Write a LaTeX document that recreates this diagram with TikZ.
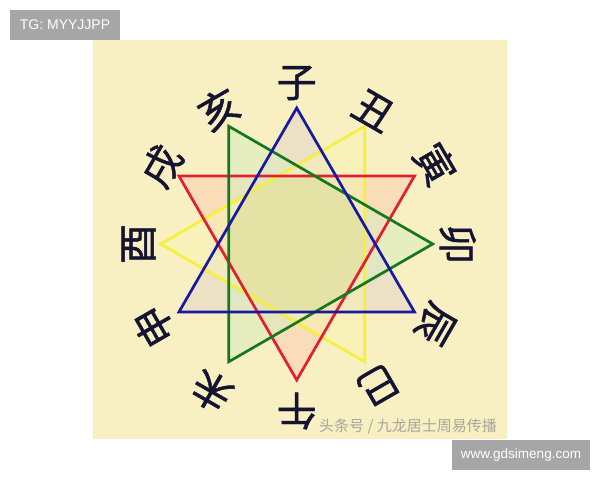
\documentclass[tikz,border=0pt]{standalone}
\usepackage{fontspec}
\setmainfont{Liberation Sans}
\newfontfamily\cjk{Noto Sans CJK SC}
\newfontfamily\cjklab[FakeBold=1.2]{Noto Sans CJK SC}
\usetikzlibrary{calc}
\definecolor{bgc}{RGB}{248,240,194}
\definecolor{bluefill}{RGB}{228,212,200}
\definecolor{redfill}{RGB}{250,204,176}
\definecolor{greenfill}{RGB}{214,238,192}
\definecolor{yellowfill}{RGB}{248,244,180}
\definecolor{centerc}{RGB}{228,226,164}
\definecolor{bline}{RGB}{24,24,160}
\definecolor{rline}{RGB}{226,30,50}
\definecolor{gline}{RGB}{22,120,30}
\definecolor{yline}{RGB}{244,240,60}
\definecolor{labc}{RGB}{20,20,50}
\definecolor{boxgray}{RGB}{166,166,166}
\definecolor{wmgray}{RGB}{168,166,158}
\tikzset{
  tri/.style={line width=2.7pt, line join=miter},
  lab/.style={text=labc, inner sep=0pt, font=\cjklab\fontsize{40}{40}\selectfont},
  tag/.style={fill=boxgray, text=white, inner sep=0pt}
}
\begin{document}
\begin{tikzpicture}[x=1pt,y=1pt]
\useasboundingbox (0,0) rectangle (600,-480);
\fill[white] (0,0) rectangle (600,-480);
\fill[bgc] (93,-40) rectangle (507,-439);
\coordinate (O) at (296.7,-244);
\foreach \i in {0,...,11} \coordinate (p\i) at ($(O)+({90-30*\i}:136)$);
% fills
\fill[bluefill, fill opacity=.5] (p0)--(p4)--(p8)--cycle;
\fill[redfill, fill opacity=.5] (p2)--(p6)--(p10)--cycle;
\fill[greenfill, fill opacity=.5] (p11)--(p3)--(p7)--cycle;
\fill[yellowfill, fill opacity=.5] (p1)--(p5)--(p9)--cycle;
\begin{scope}
\clip (p0)--(p4)--(p8)--cycle;
\clip (p2)--(p6)--(p10)--cycle;
\clip (p11)--(p3)--(p7)--cycle;
\clip (p1)--(p5)--(p9)--cycle;
\fill[centerc] (O) circle (90);
\end{scope}
% lines
\draw[tri, yline] (p1)--(p5)--(p9)--cycle;
\draw[tri, rline] (p2)--(p6)--(p10)--cycle;
\draw[tri, gline] (p11)--(p3)--(p7)--cycle;
\draw[tri, bline] (p0)--(p4)--(p8)--cycle;
% labels
\foreach \i/\c/\r in {0/子/161,1/丑/154,2/寅/160,3/卯/161,4/辰/160,5/巳/163,6/午/167,7/未/170,8/申/165,9/酉/158,10/戌/156,11/亥/156}
  \node[lab, rotate=-30*\i] (l\i) at ($(O)+({90-30*\i}:\r)$) {\c};
% watermark
\node[text=wmgray, inner sep=0pt, font=\cjk\fontsize{15}{15}\selectfont] (wm) at (408,-427) {头条号 / 九龙居士周易传播};
% tags
\node[tag, minimum width=110pt, minimum height=30pt, font=\fontsize{14}{14}\selectfont] (tg) at (65,-25) {TG: MYYJJPP};
\node[tag, minimum width=138pt, minimum height=30pt, font=\fontsize{13.5}{13.5}\selectfont] (www) at (521,-455) {www.gdsimeng.com};
\end{tikzpicture}
\end{document}
